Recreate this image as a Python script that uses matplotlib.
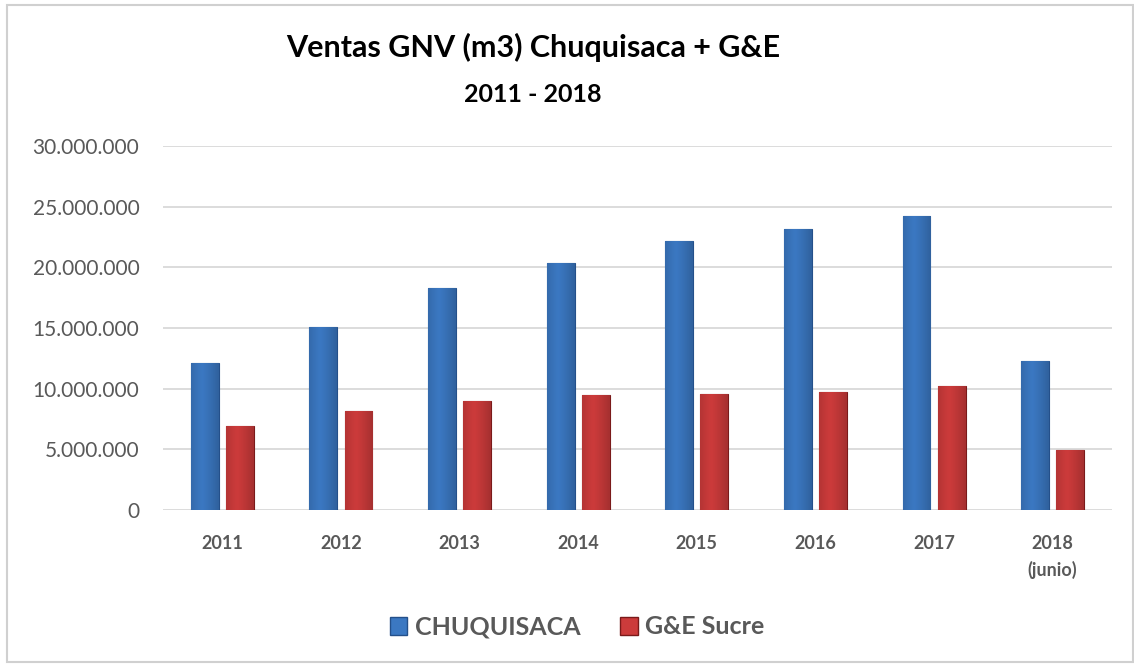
import numpy as np
import matplotlib.pyplot as plt
from matplotlib.patches import Rectangle, Patch
from matplotlib.ticker import FuncFormatter
from matplotlib.colors import to_rgb

plt.rcParams['font.family'] = ['Lato', 'DejaVu Sans']

years = ['2011', '2012', '2013', '2014', '2015', '2016', '2017', '2018\n(junio)']
chuquisaca = [12.1e6, 15.1e6, 18.3e6, 20.35e6, 22.2e6, 23.15e6, 24.25e6, 12.3e6]
ge_sucre = [6.95e6, 8.2e6, 8.95e6, 9.45e6, 9.55e6, 9.7e6, 10.2e6, 4.95e6]

blue = '#3b78c2'
red = '#cc3b3b'

fig = plt.figure(figsize=(11.34, 6.64), dpi=100)
ax = fig.add_axes([163 / 1134, 1 - 510 / 664, (1112 - 163) / 1134, (510 - 146) / 664])

# thin grey frame round the whole chart
fig.patches.append(Rectangle((7 / 1134, 2 / 664), 1 - 8 / 1134, 1 - 7 / 664,
                             transform=fig.transFigure, fill=False,
                             edgecolor='#d0d0d0', linewidth=1.5))

x = np.arange(len(years))
w = 0.235
off = 0.148


def shaded_bars(xs, vals, color, dark):
    bars = ax.bar(xs, vals, w, color=color, edgecolor=dark, linewidth=0.8, zorder=3)
    # horizontal gradient to mimic the bevelled look
    grad = np.linspace(0, 1, 64)
    shade = 1 - 0.35 * np.abs(grad - 0.4) ** 1.2
    c = np.array(to_rgb(color))
    img = (shade[:, None] * c[None, :])[None, :, :]
    for b in bars:
        x0, y0 = b.get_x(), b.get_y()
        im = ax.imshow(img, extent=[x0, x0 + b.get_width(), y0, y0 + b.get_height()],
                       aspect='auto', zorder=3.5, interpolation='bicubic')
        im.set_clip_path(b)
    return bars


shaded_bars(x - off, chuquisaca, blue, '#24508a')
shaded_bars(x + off, ge_sucre, red, '#7a1a1a')

ax.set_xlim(-0.5, len(years) - 0.5)
ax.set_ylim(0, 30e6)
ax.set_yticks(np.arange(0, 30.1e6, 5e6))
ax.yaxis.set_major_formatter(FuncFormatter(lambda v, p: f'{int(v):,}'.replace(',', '.')))
ax.grid(axis='y', color='#d9d9d9', linewidth=1.3, zorder=0)
ax.set_axisbelow(True)
for s in ax.spines.values():
    s.set_visible(False)
ax.tick_params(axis='both', length=0)
ax.tick_params(axis='y', labelsize=15, labelcolor='#595959', pad=17)
ax.set_xticks(x)
ax.set_xticklabels(years, fontsize=13, fontweight='bold', color='#595959', linespacing=1.6)
ax.tick_params(axis='x', pad=18)

fig.text(533 / 1134, 1 - 47 / 664, 'Ventas GNV (m3) Chuquisaca + G&E', ha='center', va='center',
         fontsize=22, fontweight='bold', color='black')
fig.text(533 / 1134, 1 - 95 / 664, '2011 - 2018', ha='center', va='center',
         fontsize=18, fontweight='bold', color='black')

handles = [Patch(facecolor=blue, edgecolor='#24508a', label='CHUQUISACA'),
           Patch(facecolor=red, edgecolor='#7a1a1a', label='G&E Sucre')]
fig.legend(handles=handles, loc='center', bbox_to_anchor=(577 / 1134, 1 - 627 / 664), ncol=2,
           frameon=False, handlelength=0.7, handleheight=0.7, handletextpad=0.3,
           columnspacing=1.6, prop={'size': 18, 'weight': 'bold'}, labelcolor='#595959')

fig.savefig('out.png', dpi=100)
